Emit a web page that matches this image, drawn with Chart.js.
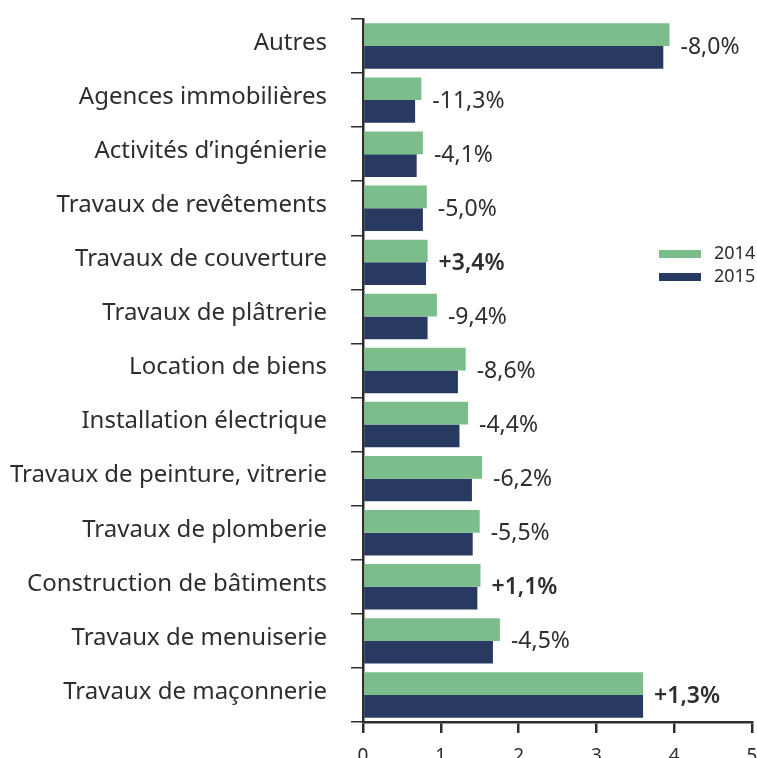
<!DOCTYPE html>
<html>
<head>
<meta charset="utf-8">
<script src="https://cdn.jsdelivr.net/npm/chart.js@4/dist/chart.umd.min.js"></script>
<style>
  html, body { margin: 0; padding: 0; background: #fff; overflow: hidden; }
  #wrap { position: relative; width: 757px; height: 780px; }
</style>
</head>
<body>
<div id="wrap"><canvas id="chart"></canvas></div>
<script>
// Données
const categories = [
    'Autres',
    'Agences immobilières',
    'Activités d\u2019ingénierie',
    'Travaux de revêtements',
    'Travaux de couverture',
    'Travaux de plâtrerie',
    'Location de biens',
    'Installation électrique',
    'Travaux de peinture, vitrerie',
    'Travaux de plomberie',
    'Construction de bâtiments',
    'Travaux de menuiserie',
    'Travaux de maçonnerie',
];
const values2014 = [3.94, 0.75, 0.77, 0.82, 0.83, 0.95, 1.32, 1.35, 1.53, 1.50, 1.51, 1.76, 3.60];
const values2015 = [3.86, 0.67, 0.69, 0.77, 0.81, 0.83, 1.22, 1.24, 1.40, 1.41, 1.47, 1.67, 3.60];
const variations = ['-8,0%', '-11,3%', '-4,1%', '-5,0%', '+3,4%', '-9,4%', '-8,6%', '-4,4%', '-6,2%', '-5,5%', '+1,1%', '-4,5%', '+1,3%'];
const xTicks = [0, 1, 2, 3, 4, 5];

const GREEN = '#7bbe8c';
const NAVY = '#283a62';
const INK = '#2e2e2e';
const FONT = 'Noto Sans';

// Étiquettes de variation à droite des barres
const variationLabels = {
    id: 'variationLabels',
    afterDatasetsDraw(chart) {
        const ctx = chart.ctx;
        const x = chart.scales.x;
        const y = chart.scales.y;
        ctx.save();
        ctx.fillStyle = INK;
        ctx.textBaseline = 'middle';
        ctx.textAlign = 'left';
        variations.forEach((txt, i) => {
            const bold = txt.startsWith('+');
            ctx.font = (bold ? '600 ' : '') + '23px "' + FONT + '"';
            const maxVal = Math.max(values2014[i], values2015[i]);
            ctx.fillText(txt, x.getPixelForValue(maxVal) + 11, y.getPixelForValue(i) + 1);
        });
        ctx.restore();
    },
};

// Légende dessinée à la main (à droite, au milieu)
const sideLegend = {
    id: 'sideLegend',
    afterDraw(chart) {
        const ctx = chart.ctx;
        const items = [['2014', GREEN, 250], ['2015', NAVY, 273]];
        ctx.save();
        ctx.font = '18px "' + FONT + '"';
        ctx.textBaseline = 'middle';
        items.forEach(([label, color, top]) => {
            ctx.fillStyle = color;
            ctx.fillRect(659, top, 42, 8);
            ctx.fillStyle = INK;
            ctx.fillText(label, 714, top + 4);
        });
        ctx.restore();
    },
};

new Chart(document.getElementById('chart'), {
    type: 'bar',
    data: {
        labels: categories,
        datasets: [
            { label: '2014', data: values2014, backgroundColor: GREEN },
            { label: '2015', data: values2015, backgroundColor: NAVY },
        ],
    },
    options: {
        indexAxis: 'y',
        responsive: true,
        maintainAspectRatio: false,
        animation: false,
        layout: { padding: { top: 19, right: 5, left: 0, bottom: 0 } },
        datasets: { bar: { categoryPercentage: 0.84, barPercentage: 1.0 } },
        plugins: {
            legend: { display: false },
            tooltip: { enabled: false },
        },
        scales: {
            x: {
                min: 0,
                max: 5,
                afterBuildTicks: (scale) => { scale.ticks = xTicks.map(v => ({ value: v })); },
                afterFit: (scale) => {
                    scale.height = 58;
                    scale.paddingLeft = 0;
                    scale.paddingRight = 0;
                },
                border: { display: true, color: INK, width: 2.5 },
                grid: { drawOnChartArea: false, drawTicks: true, tickLength: 11, color: INK, lineWidth: 2.5 },
                ticks: { color: INK, font: { family: FONT, size: 19 }, padding: 12 },
            },
            y: {
                afterFit: (scale) => {
                    scale.width = 363;
                    scale.paddingTop = 0;
                    scale.paddingBottom = 0;
                },
                border: { display: true, color: INK, width: 2.5 },
                grid: { offset: true, drawOnChartArea: false, drawTicks: true, tickLength: 12, color: INK, lineWidth: 1.5 },
                ticks: { color: INK, font: { family: FONT, size: 24 }, padding: 24, labelOffset: -3 },
            },
        },
    },
    plugins: [variationLabels, sideLegend],
});
</script>
</body>
</html>
